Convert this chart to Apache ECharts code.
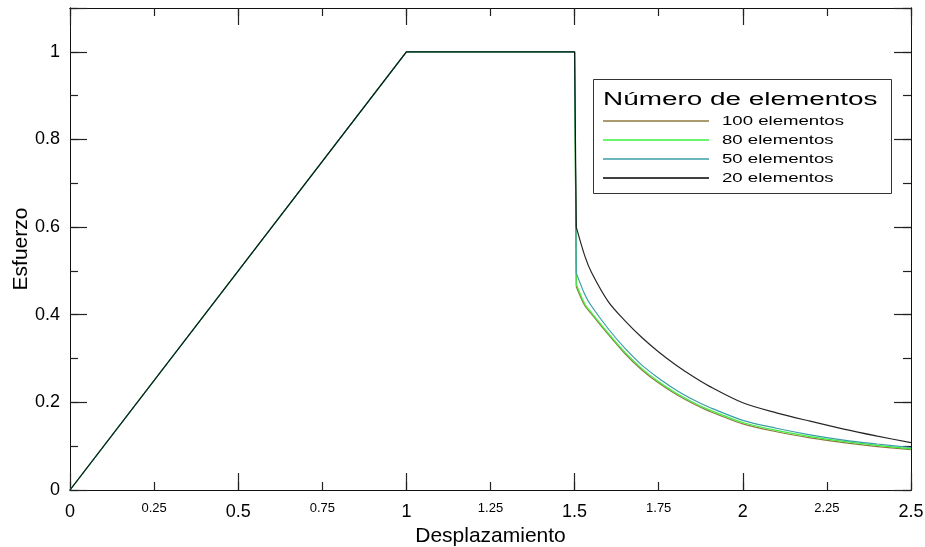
<!DOCTYPE html>
<html>
<head>
<meta charset="utf-8">
<script src="https://cdn.jsdelivr.net/npm/echarts@6/dist/echarts.min.js"></script>
<style>
  html, body { margin: 0; padding: 0; background: #fff; }
  #chart { width: 925px; height: 547px; }
</style>
</head>
<body>
<div id="chart"></div>
<script>
// Loading path shared by all meshes: linear rise and plateau
const xRise = [0, 1, 1.5];
const yRise = [0, 1, 1];

// Softening branch after the peak
const xDecay = [1.505, 1.53, 1.55, 1.6, 1.65, 1.7, 1.75, 1.8, 1.85, 1.9, 2.0, 2.1, 2.2, 2.3, 2.4, 2.5];
const y100 = [0.464, 0.421, 0.402, 0.355, 0.311, 0.274, 0.244, 0.219, 0.198, 0.180, 0.151, 0.133, 0.119, 0.108, 0.099, 0.092];
const y80  = [0.470, 0.425, 0.405, 0.358, 0.314, 0.277, 0.247, 0.222, 0.201, 0.183, 0.154, 0.136, 0.122, 0.111, 0.102, 0.094];
const y50  = [0.495, 0.447, 0.420, 0.368, 0.323, 0.285, 0.255, 0.229, 0.207, 0.189, 0.159, 0.141, 0.126, 0.114, 0.105, 0.097];
const y20  = [0.600, 0.535, 0.497, 0.430, 0.386, 0.348, 0.315, 0.286, 0.260, 0.237, 0.199, 0.176, 0.157, 0.139, 0.123, 0.108];

const seriesNames = ['100 elementos', '80 elementos', '50 elementos', '20 elementos'];
const seriesColors = ['#8c7a3c', '#3cf03c', '#3a9fa5', '#000000'];
const seriesValues = [y100, y80, y50, y20];
const legendTitle = 'Número de elementos';

const xTickLabels = ['0', '0.25', '0.5', '0.75', '1', '1.25', '1.5', '1.75', '2', '2.25', '2.5'];
const yTickLabels = ['0', '0.2', '0.4', '0.6', '0.8', '1'];

const FONT = '"Liberation Sans", Arial, sans-serif';

// rise + plateau + vertical drop down to the first softening point
function peakPath(ys) {
  const pts = xRise.map((x, i) => [x, yRise[i]]);
  pts.push([xDecay[0], ys[0]]);
  return pts;
}
function decayPath(ys) {
  return xDecay.map((x, i) => [x, ys[i]]);
}

const tickColor = '#222';
const frameColor = '#111';
const blankLabel = { show: true, formatter: function () { return ''; } };

function xAxisDef(position, interval, len) {
  return {
    type: 'value', min: 0, max: 2.5, interval: interval, position: position,
    axisLine: { show: true, onZero: false, lineStyle: { color: frameColor, width: 1 } },
    axisTick: { show: true, inside: true, length: len, lineStyle: { color: tickColor, width: 1.2 } },
    splitLine: { show: false },
    axisLabel: blankLabel
  };
}
function yAxisDef(position, interval, len) {
  return {
    type: 'value', min: 0, max: 1.1, interval: interval, position: position,
    axisLine: { show: true, onZero: false, lineStyle: { color: frameColor, width: 1 } },
    axisTick: { show: true, inside: true, length: len, lineStyle: { color: tickColor, width: 1.2 } },
    splitLine: { show: false },
    axisLabel: blankLabel
  };
}

// bottom axis with minor/major labels
const xMain = xAxisDef('bottom', 0.25, 8);
xMain.axisLabel = {
  show: true, margin: 12,
  formatter: function (v) {
    const idx = Math.round(v / 0.25);
    const t = xTickLabels[idx];
    if (t === undefined) return '';
    return idx % 2 === 0 ? '{big|' + t + '}' : '{small|' + t + '}';
  },
  rich: {
    big: { fontSize: 18, lineHeight: 20, fontFamily: FONT, color: '#000' },
    small: { fontSize: 13, lineHeight: 13, fontFamily: FONT, color: '#000' }
  }
};
xMain.name = 'Desplazamiento';
xMain.nameLocation = 'middle';
xMain.nameGap = 36;
xMain.nameMoveOverlap = false;
xMain.nameTextStyle = { fontSize: 21, fontFamily: FONT, color: '#000' };

const yMain = yAxisDef('left', 0.1, 8);
yMain.axisLabel = {
  show: true, margin: 10, fontSize: 18, fontFamily: FONT, color: '#000',
  formatter: function (v) {
    const idx = Math.round(v * 10);
    if (idx % 2 !== 0) return '';
    const t = yTickLabels[idx / 2];
    return t === undefined ? '' : t;
  }
};
yMain.name = 'Esfuerzo';
yMain.nameLocation = 'middle';
yMain.nameGap = 38;
yMain.nameMoveOverlap = false;
yMain.nameTextStyle = { fontSize: 21, fontFamily: FONT, color: '#000' };

const graphic = [
  { type: 'rect', z: 100, shape: { x: 593.5, y: 79.5, width: 298, height: 114 },
    style: { fill: '#fff', stroke: '#333', lineWidth: 1 } },
  { type: 'text', z: 101, x: 603, y: 100, scaleX: 1.55,
    style: { text: legendTitle, fontSize: 18, fontFamily: FONT, fill: '#000',
             textAlign: 'left', textVerticalAlign: 'middle', align: 'left', verticalAlign: 'middle' } }
];
const rowY = [121, 140, 159, 178];
seriesNames.forEach((name, i) => {
  graphic.push({ type: 'line', z: 101, shape: { x1: 603, y1: rowY[i], x2: 709, y2: rowY[i] },
    style: { stroke: seriesColors[i], lineWidth: 1.6 } });
  graphic.push({ type: 'text', z: 101, x: 722, y: rowY[i] + 1, scaleX: 1.55,
    style: { text: name, fontSize: 12, fontFamily: FONT, fill: '#000',
             textAlign: 'left', textVerticalAlign: 'middle', align: 'left', verticalAlign: 'middle' } });
});

const series = [];
seriesNames.forEach((name, i) => {
  const ls = { color: seriesColors[i], width: 1.2, opacity: i === 3 ? 0.85 : 1 };
  series.push({
    name: name, type: 'line', xAxisIndex: 0, yAxisIndex: 0,
    data: peakPath(seriesValues[i]),
    showSymbol: false, symbol: 'none', smooth: false,
    lineStyle: ls, z: 2 + i
  });
  series.push({
    name: name, type: 'line', xAxisIndex: 0, yAxisIndex: 0,
    data: decayPath(seriesValues[i]),
    showSymbol: false, symbol: 'none', smooth: 0.3,
    lineStyle: ls, z: 2 + i
  });
});

const option = {
  animation: false,
  backgroundColor: '#fff',
  grid: { left: 70, right: 14, top: 8, bottom: 57, containLabel: false, outerBoundsMode: 'none' },
  xAxis: [
    xMain,
    xAxisDef('bottom', 0.5, 17),
    xAxisDef('top', 0.25, 8),
    xAxisDef('top', 0.5, 17)
  ],
  yAxis: [
    yMain,
    yAxisDef('left', 0.2, 17),
    yAxisDef('right', 0.1, 8),
    yAxisDef('right', 0.2, 17)
  ],
  series: series,
  graphic: graphic
};

const chart = echarts.init(document.getElementById('chart'), null, { renderer: 'canvas' });
chart.setOption(option);
</script>
</body>
</html>
